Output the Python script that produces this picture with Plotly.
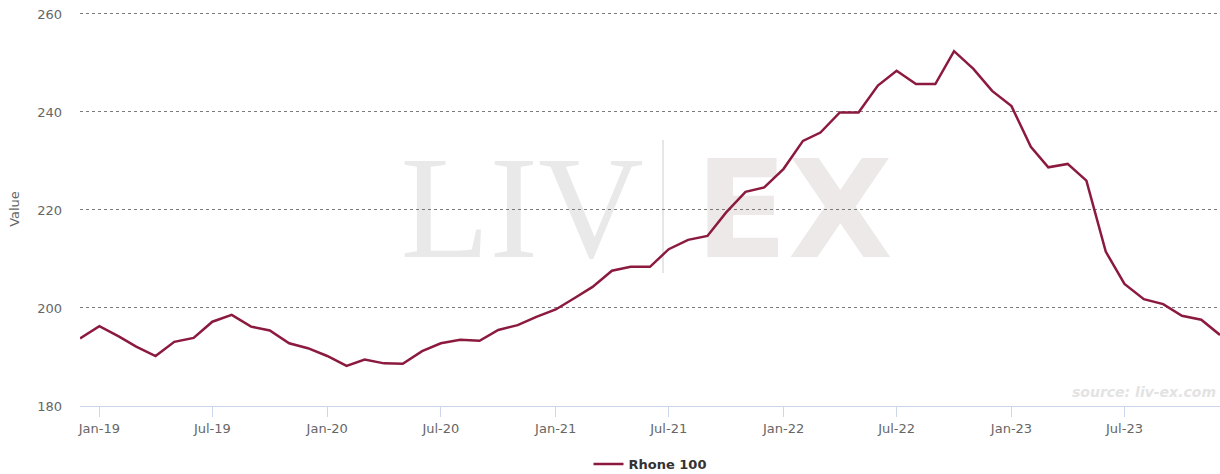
import plotly.graph_objects as go
import pandas as pd

months = pd.date_range("2018-12-01", "2023-12-01", freq="MS").strftime("%Y-%m-%d").tolist()
rhone_100 = [
    193.8, 196.3, 194.2, 192.1, 190.2, 193.1, 193.9, 197.2, 198.6, 196.2, 195.4, 192.8, 191.8,
    190.2, 188.2, 189.5, 188.7, 188.6, 191.2, 192.8, 193.5, 193.3, 195.5, 196.5, 198.2,
    199.7, 202.1, 204.3, 207.6, 208.4, 208.4, 212.0, 213.9, 214.7, 219.5, 223.7, 224.6,
    228.4, 234.1, 235.8, 239.9, 239.9, 245.4, 248.4, 245.7, 245.7, 252.4, 248.8, 244.3,
    241.2, 232.9, 228.7, 229.4, 226.0, 211.5, 204.9, 201.8, 200.8, 198.4, 197.6, 194.5,
]
series_name = "Rhone 100"
y_ticks = [180, 200, 220, 240, 260]

fig = go.Figure()
fig.add_trace(go.Scatter(
    x=months, y=rhone_100, mode="lines", name="<b>" + series_name + "</b>",
    line=dict(color="#8b1a3e", width=2.5),
))

TOP, BOT = 12, 406

fig.update_layout(
    width=1220, height=474,
    margin=dict(l=80, r=0, t=TOP, b=474 - BOT),
    paper_bgcolor="white", plot_bgcolor="white",
    font=dict(family="DejaVu Sans", color="#666666", size=12),
    showlegend=True,
    legend=dict(orientation="h", x=0.5, xanchor="center", xref="paper",
                yref="container", y=(474 - 464) / 474, yanchor="middle",
                font=dict(size=13, color="#333333", family="DejaVu Sans"),
                itemwidth=30),
    xaxis=dict(
        type="date", range=[months[0], months[-1]],
        tick0="2019-01-01", dtick="M6", tickformat="%b-%y",
        showgrid=False, showline=True, linecolor="#ccd6eb", linewidth=1,
        ticks="outside", ticklen=10, tickcolor="#ccd6eb",
        tickfont=dict(size=13, color="#666666"), zeroline=False,
    ),
    yaxis=dict(
        range=[180, 260.4], tickvals=y_ticks,
        showgrid=True, gridcolor="#7a7a7a", griddash="dot", gridwidth=1,
        zeroline=False, showline=False,
        tickfont=dict(size=13, color="#666666"), ticklabelstandoff=17,
        title=dict(text="Value", font=dict(size=13, color="#666666"), standoff=14),
    ),
)


def px_x(p):
    return (p - 80) / 1140


def px_y(p):
    return (BOT - p) / (BOT - TOP)


# watermark (shapes with labels, drawn below the data)
def wm(text, cx, cy, family, size, color):
    fig.add_shape(type="rect", xref="paper", yref="paper",
                  x0=px_x(cx - 150), x1=px_x(cx + 150), y0=px_y(cy + 80), y1=px_y(cy - 80),
                  line=dict(width=0), fillcolor="rgba(0,0,0,0)", layer="below",
                  label=dict(text=text, textposition="middle center",
                             font=dict(family=family, size=size, color=color)))


wm("LIV", 522, 192, "Liberation Serif", 146, "#e9e9e9")
wm("<b>EX</b>", 794, 200, "DejaVu Sans", 136, "#eee9e9")
fig.add_shape(type="line", xref="paper", yref="paper",
              x0=px_x(663), x1=px_x(663), y0=px_y(273), y1=px_y(140),
              line=dict(color="#e6e6e6", width=2), layer="below")
fig.add_annotation(text="<i><b>source: liv-ex.com</b></i>", xref="paper", yref="paper",
                   x=px_x(1218), y=px_y(392), xanchor="right", yanchor="middle",
                   showarrow=False, font=dict(family="DejaVu Sans", size=14, color="#e3e3e3"))

fig.write_html("out.html", config={"displayModeBar": False},
               post_script="document.body.style.margin='0';document.body.style.overflow='hidden';")
